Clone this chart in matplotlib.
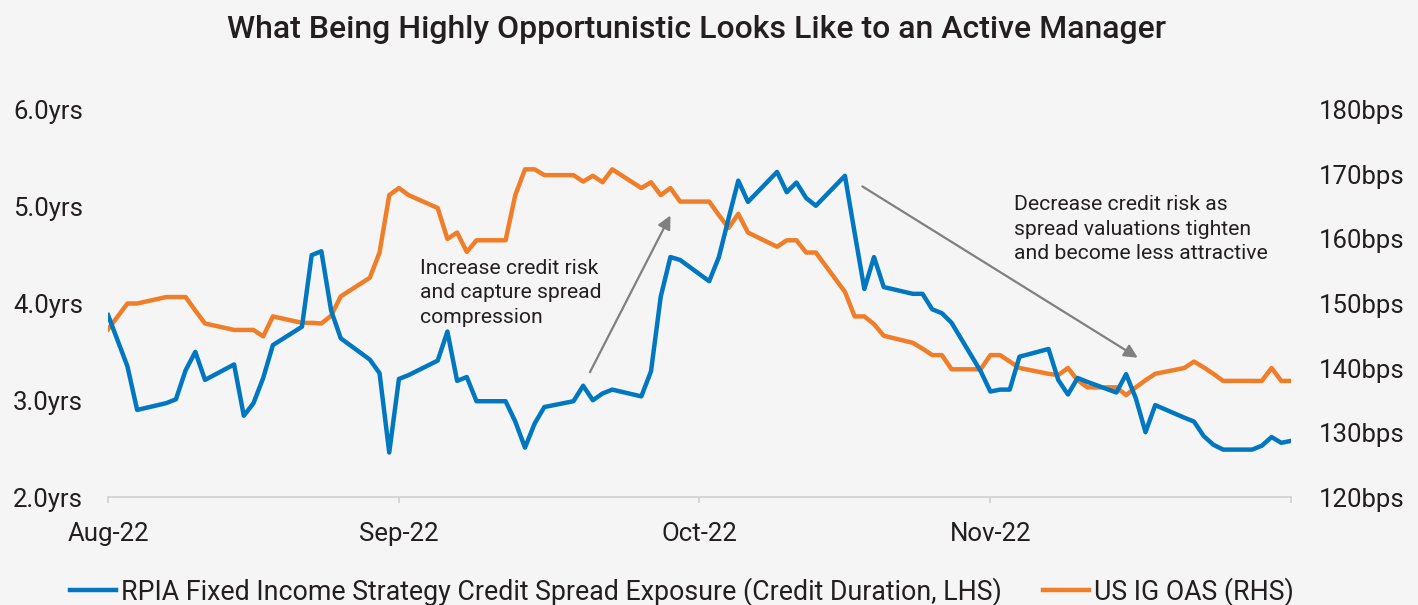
"""Credit duration vs US IG OAS, Aug-Nov 2022."""

import matplotlib
matplotlib.use("Agg")
import matplotlib.pyplot as plt
import pandas as pd

BG = "#f5f5f5"
BLUE = "#0077c0"
ORANGE = "#f07d28"
TEXT = "#231f20"

START = "2022-08-01"

# day offsets from Aug 1 and values
duration_days = [0, 2, 3, 6, 7, 8, 9, 10, 13, 14, 15, 16, 17, 20, 21, 22, 23, 24,
                 27, 28, 29, 30, 31, 34, 35, 36, 37, 38, 41, 42, 43, 44, 45,
                 48, 49, 50, 51, 52, 55, 56, 57, 58, 59, 62, 63, 64, 65, 66,
                 69, 70, 71, 72, 73, 76, 77, 78, 79, 80, 83, 84, 85, 86, 87,
                 90, 91, 92, 93, 94, 97, 98, 99, 100, 101, 104, 105, 106, 107, 108,
                 111, 112, 113, 114, 115, 118, 119, 120, 121, 122]
duration_yrs = [3.88, 3.35, 2.90, 2.97, 3.01, 3.31, 3.50, 3.21, 3.37, 2.84, 2.97, 3.23, 3.57,
                3.76, 4.50, 4.54, 3.93, 3.64, 3.42, 3.28, 2.46, 3.22, 3.26,
                3.41, 3.71, 3.20, 3.24, 2.99, 2.99, 2.78, 2.51, 2.76, 2.93,
                2.99, 3.15, 3.00, 3.07, 3.11, 3.04, 3.30, 4.07, 4.48, 4.45,
                4.23, 4.48, 4.88, 5.27, 5.05, 5.36, 5.15, 5.25, 5.09, 5.01,
                5.32, 4.73, 4.15, 4.48, 4.17, 4.10, 4.10, 3.94, 3.90, 3.80,
                3.30, 3.09, 3.11, 3.11, 3.45, 3.53, 3.21, 3.06, 3.23, 3.19,
                3.08, 3.27, 3.02, 2.67, 2.95, 2.82, 2.78, 2.63, 2.54, 2.49,
                2.49, 2.53, 2.62, 2.56, 2.58]

oas_days = duration_days
oas_bps = [146.0, 150.0, 150.0, 151.0, 151.0, 151.0, 148.9, 146.9, 145.9, 145.9, 145.9, 144.9, 148.0,
           147.0, 147.0, 146.9, 148.1, 151.1, 154.0, 157.9, 166.8, 167.9, 166.8,
           164.8, 160.0, 161.0, 158.0, 159.8, 159.8, 166.8, 170.8, 170.8, 169.9,
           169.9, 168.9, 169.8, 168.8, 170.8, 167.9, 168.8, 166.8, 167.9, 165.8,
           165.8, 163.7, 161.7, 163.9, 161.0, 158.8, 159.8, 159.8, 157.9, 157.9,
           151.8, 148.0, 148.0, 146.8, 145.0, 143.9, 143.0, 142.0, 142.0, 139.8,
           139.8, 142.0, 142.0, 141.0, 140.0, 139.1, 138.9, 140.0, 138.1, 137.0,
           137.0, 135.8, 137.0, 138.1, 139.1, 140.0, 141.0, 140.1, 139.1, 138.0,
           138.0, 138.0, 140.0, 138.0, 138.0]

tick_days = [0, 30, 61, 91, 122]
tick_labels = ["Aug-22", "Sep-22", "Oct-22", "Nov-22", ""]

left_ticks = [2.0, 3.0, 4.0, 5.0, 6.0]
right_ticks = [120, 130, 140, 150, 160, 170, 180]

# annotation arrows: (day, years) tail -> head
arrow_up = ((49.7, 3.29), (58.0, 4.91))
arrow_down = ((77.8, 5.21), (106.2, 3.44))

TITLE = "What Being Highly Opportunistic Looks Like to an Active Manager"
NOTE_UP = "Increase credit risk\nand capture spread\ncompression"
NOTE_DOWN = "Decrease credit risk as\nspread valuations tighten\nand become less attractive"
LABEL_DUR = "RPIA Fixed Income Strategy Credit Spread Exposure (Credit Duration, LHS)"
LABEL_OAS = "US IG OAS (RHS)"


def to_dates(days):
    return pd.Timestamp(START) + pd.to_timedelta(days, unit="D")


def main():
    plt.rcParams["font.family"] = ["Roboto", "DejaVu Sans"]
    plt.rcParams["text.color"] = TEXT

    fig = plt.figure(figsize=(14.18, 6.05), dpi=100, facecolor=BG)
    ax = fig.add_axes([0.0762, 0.1785, 0.8342, 0.6397])
    ax.set_facecolor(BG)
    ax2 = ax.twinx()

    l1, = ax.plot(to_dates(duration_days), duration_yrs, color=BLUE, linewidth=3.2,
                  solid_joinstyle="round", zorder=3)
    l2, = ax2.plot(to_dates(oas_days), oas_bps, color=ORANGE, linewidth=3.2,
                   solid_joinstyle="round", zorder=2)
    ax.set_zorder(ax2.get_zorder() + 1)
    ax.patch.set_visible(False)
    ax2.patch.set_visible(True)
    ax2.patch.set_facecolor(BG)

    ax.set_xlim(to_dates(0), to_dates(122))
    ax.set_ylim(2.0, 6.0)
    ax2.set_ylim(120, 180)

    ax.set_xticks(to_dates(tick_days))
    ax.set_xticklabels(tick_labels)
    ax.set_yticks(left_ticks)
    ax.set_yticklabels([f"{v:.1f}yrs" for v in left_ticks])
    ax2.set_yticks(right_ticks)
    ax2.set_yticklabels([f"{v}bps" for v in right_ticks])

    for a in (ax, ax2):
        for side in ("top", "left", "right", "bottom"):
            a.spines[side].set_visible(False)
    ax.spines["bottom"].set_visible(True)
    ax.spines["bottom"].set_color("#d0d0d0")
    ax.spines["bottom"].set_linewidth(1.2)

    ax.tick_params(axis="x", colors="#d0d0d0", labelcolor=TEXT, length=4, width=1.2,
                   labelsize=18.5, pad=14)
    ax.tick_params(axis="y", length=0, labelsize=18.5, labelcolor=TEXT, pad=18)
    ax2.tick_params(axis="y", length=0, labelsize=18.5, labelcolor=TEXT, pad=20)
    ax2.tick_params(axis="x", length=0)

    arrow_style = dict(arrowstyle="-|>", color="#808080", lw=1.6, mutation_scale=20,
                       shrinkA=0, shrinkB=0)
    ax.annotate("", xy=(to_dates(arrow_up[1][0]), arrow_up[1][1]),
                xytext=(to_dates(arrow_up[0][0]), arrow_up[0][1]),
                arrowprops=arrow_style, zorder=4)
    ax.annotate("", xy=(to_dates(arrow_down[1][0]), arrow_down[1][1]),
                xytext=(to_dates(arrow_down[0][0]), arrow_down[0][1]),
                arrowprops=arrow_style, zorder=4)

    ax.text(to_dates(32.2), 4.46, NOTE_UP, fontsize=15.2, va="top", ha="left",
            linespacing=1.36, zorder=5)
    ax.text(to_dates(93.4), 5.12, NOTE_DOWN, fontsize=15.2, va="top", ha="left",
            linespacing=1.36, zorder=5)

    fig.text(0.4915, 0.952, TITLE, ha="center", va="center", fontsize=23,
             fontweight="medium")

    fig.legend([l1, l2], [LABEL_DUR, LABEL_OAS], loc="center", bbox_to_anchor=(0.481, 0.022),
               ncol=2, frameon=False, fontsize=19.3, handlelength=1.7, handletextpad=0.2,
               columnspacing=1.55)

    fig.savefig("out.png", dpi=100, facecolor=BG)
    plt.close(fig)


if __name__ == "__main__":
    main()
